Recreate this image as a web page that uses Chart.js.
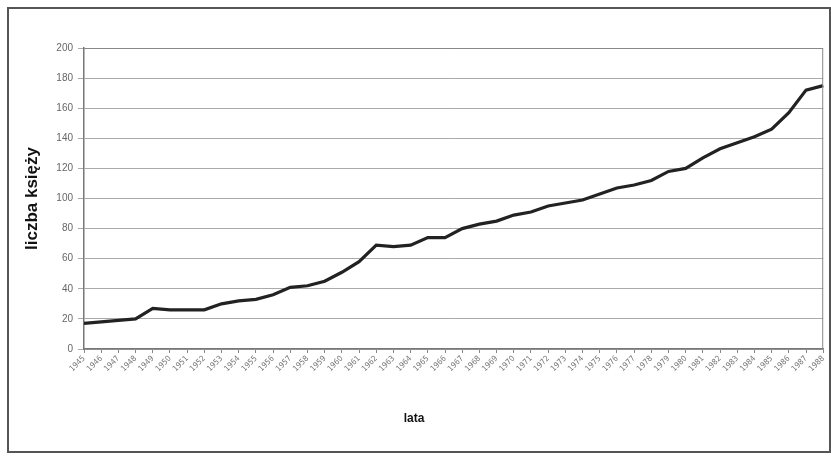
<!DOCTYPE html>
<html>
<head>
<meta charset="utf-8">
<script src="https://cdn.jsdelivr.net/npm/chart.js@4"></script>
<style>
  body { margin: 0; background: #fff; }
  #frame { position: absolute; left: 7px; top: 7px; width: 820px; height: 442px; border: 2px solid #555; }
  #wrap { position: absolute; left: 0; top: 0; width: 831px; height: 460px; }
</style>
</head>
<body>
<div id="frame"></div>
<div id="wrap"><canvas id="chart"></canvas></div>
<script>
// years on the x axis
const years = ['1945','1946','1947','1948','1949','1950','1951','1952','1953','1954','1955',
  '1956','1957','1958','1959','1960','1961','1962','1963','1964','1965','1966','1967',
  '1968','1969','1970','1971','1972','1973','1974','1975','1976','1977','1978','1979',
  '1980','1981','1982','1983','1984','1985','1986','1987','1988'];

// number of priests per year
const priests = [17, 18, 19, 20, 27, 26, 26, 26, 30, 32, 33, 36, 41, 42, 45, 51, 58, 69,
  68, 69, 74, 74, 80, 83, 85, 89, 91, 95, 97, 99, 103, 107, 109, 112, 118, 120, 127,
  133, 137, 141, 146, 157, 172, 175];

const yTicks = [0, 20, 40, 60, 80, 100, 120, 140, 160, 180, 200];

// outline of the plot area (top and right edges) + x axis title,
// which sits left of the plot centre in the original
const plotBox = {
  id: 'plotBox',
  afterDraw(chart) {
    const { ctx, chartArea: a } = chart;
    ctx.save();
    ctx.strokeStyle = '#888';
    ctx.lineWidth = 1;
    ctx.beginPath();
    ctx.moveTo(a.left, a.top + 0.5);
    ctx.lineTo(a.right - 0.5, a.top + 0.5);
    ctx.lineTo(a.right - 0.5, a.bottom);
    ctx.stroke();

    ctx.fillStyle = '#111';
    ctx.font = 'bold 12px "Liberation Sans"';
    ctx.textAlign = 'center';
    ctx.textBaseline = 'middle';
    ctx.fillText('lata', 414, 419);
    ctx.restore();
  }
};

new Chart(document.getElementById('chart'), {
  type: 'line',
  data: {
    labels: years,
    datasets: [{
      data: priests,
      borderColor: '#222',
      borderWidth: 3.2,
      pointRadius: 0,
      tension: 0,
      fill: false
    }]
  },
  options: {
    responsive: true,
    maintainAspectRatio: false,
    animation: false,
    layout: { padding: { left: 20, top: 48, right: 5, bottom: 30 } },
    plugins: { legend: { display: false }, tooltip: { enabled: false } },
    scales: {
      x: {
        offset: false,
        afterFit: s => { s.height = 81; },
        grid: { drawOnChartArea: false, tickLength: 4, color: '#888' },
        border: { color: '#777', width: 1.5 },
        ticks: {
          autoSkip: false, minRotation: 45, maxRotation: 45,
          color: '#777', padding: 1,
          font: { family: '"DejaVu Sans Condensed", "Liberation Sans", sans-serif', size: 8 }
        }
      },
      y: {
        min: 0, max: 200,
        afterFit: s => { s.width = 64; },
        afterBuildTicks: s => { s.ticks = yTicks.map(v => ({ value: v })); },
        grid: { color: '#aaa', lineWidth: 1, tickLength: 6 },
        border: { color: '#777', width: 1.5 },
        ticks: {
          color: '#666', padding: 5,
          font: { family: 'Liberation Sans', size: 10 }
        },
        title: {
          display: true, text: 'liczba księży', color: '#111', padding: 2,
          font: { family: 'Liberation Sans', size: 17, weight: 'bold' }
        }
      }
    }
  },
  plugins: [plotBox]
});
</script>
</body>
</html>
